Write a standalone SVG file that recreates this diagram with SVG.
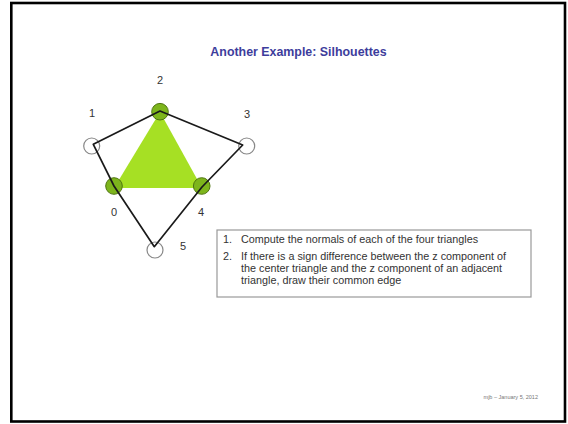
<svg xmlns="http://www.w3.org/2000/svg" width="568" height="424" viewBox="0 0 568 424">
<style>
.lbl{font-family:"Liberation Sans",Arial,sans-serif;font-size:11px;fill:#333;text-anchor:middle}
.body{font-family:"Liberation Sans",Arial,sans-serif;font-size:10.8px;fill:#333}
.gc{fill:#7db51c;stroke:#4f7510;stroke-width:1}
.wc{fill:#fff;stroke:#888;stroke-width:1.2}
</style>
<rect x="0" y="0" width="568" height="424" fill="#fff"/>
<rect x="11.3" y="3" width="553.7" height="418.5" fill="none" stroke="#000" stroke-width="2.6"/>
<text x="298.5" y="55.5" font-family="'Liberation Sans',Arial,sans-serif" font-size="12.4" font-weight="bold" fill="#3d3d9c" text-anchor="middle">Another Example: Silhouettes</text>
<g id="center-triangle"><polygon points="160,112 114,188 202,188" fill="#a6e024"/></g>
<g id="v1"><circle class="wc" cx="91.7" cy="146" r="8"/><text class="lbl" x="92" y="117">1</text></g>
<g id="v3"><circle class="wc" cx="246.7" cy="146" r="8"/><text class="lbl" x="247" y="118">3</text></g>
<g id="v5"><circle class="wc" cx="155" cy="250" r="8"/><text class="lbl" x="183" y="250">5</text></g>
<g id="v2"><circle class="gc" cx="160" cy="111.7" r="8.3"/><text class="lbl" x="160" y="83.5">2</text></g>
<g id="v0"><circle class="gc" cx="114" cy="186" r="8.3"/><text class="lbl" x="114" y="216">0</text></g>
<g id="v4"><circle class="gc" cx="201.7" cy="186" r="8.3"/><text class="lbl" x="201" y="216">4</text></g>
<g id="connectors" fill="none" stroke="#1a1a1a" stroke-width="1.7" stroke-linejoin="round">
<polygon points="93.3,144.3 160,111 242.7,145 202,187 154.3,246.7 114,186"/>
</g>
<g id="textbox">
<rect x="217" y="230" width="314" height="67" fill="#fff" stroke="#999" stroke-width="1.2"/>
<text class="body" x="223" y="243">1.</text>
<text class="body" x="241" y="243">Compute the normals of each of the four triangles</text>
<text class="body" x="223" y="260">2.</text>
<text class="body" x="241" y="260">If there is a sign difference between the z component of</text>
<text class="body" x="241" y="272">the center triangle and the z component of an adjacent</text>
<text class="body" x="241" y="284">triangle, draw their common edge</text>
</g>
<text x="538" y="399" font-family="'Liberation Sans',Arial,sans-serif" font-size="5.5" fill="#777" text-anchor="end">mjb – January 5, 2012</text>
</svg>
